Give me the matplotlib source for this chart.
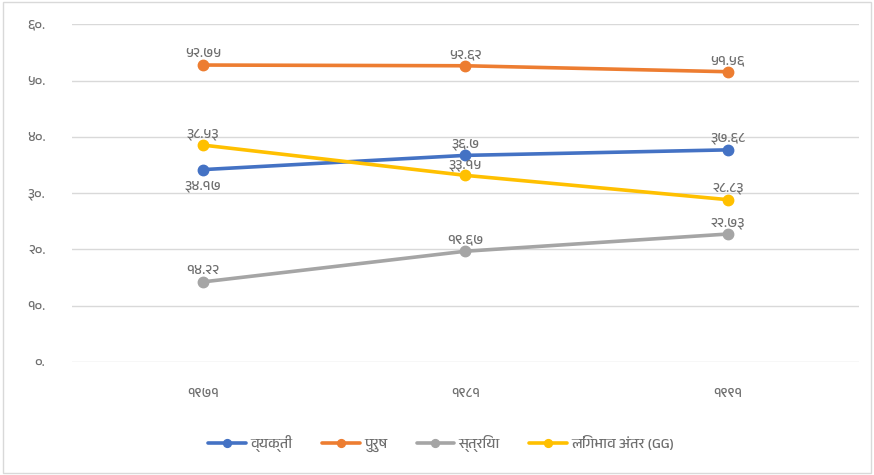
import matplotlib
matplotlib.use("Agg")
import matplotlib.pyplot as plt
from matplotlib import font_manager
import logging
logging.getLogger('matplotlib.font_manager').setLevel(logging.ERROR)

categories = ["१९७१", "१९८१", "१९९१"]
series_names = ["व्यक्ती", "पुरुष", "स्त्रिया", "लिंगभाव अंतर (GG)"]
vyakti = [34.17, 36.7, 37.68]
purush = [52.75, 52.62, 51.56]
striya = [14.22, 19.67, 22.73]
gg = [38.53, 33.15, 28.83]
value_labels = {
    "vyakti": ["३४.१७", "३६.७", "३७.६८"],
    "purush": ["५२.७५", "५२.६२", "५१.५६"],
    "striya": ["१४.२२", "१९.६७", "२२.७३"],
    "gg": ["३८.५३", "३३.१५", "२८.८३"],
}
yticks = [0, 10, 20, 30, 40, 50, 60]
ytick_labels = ["०.", "१०.", "२०.", "३०.", "४०.", "५०.", "६०."]

names = sorted({f.name for f in font_manager.fontManager.ttflist})
fams = [n for n in names if 'Devanagari' in n or 'Lohit' in n or 'Mukta' in n or 'Hind' in n or 'Gargi' in n or 'FreeSans' in n]
plt.rcParams['font.family'] = fams + ['DejaVu Sans']

colors = ["#4472C4", "#ED7D31", "#A5A5A5", "#FFC000"]
txt = "#6F6F6F"

fig = plt.figure(figsize=(8.74, 4.75), dpi=100)
ax = fig.add_axes([0.082, 0.238, 0.901, 0.711])
x = list(range(len(categories)))
data = [vyakti, purush, striya, gg]
keys = ["vyakti", "purush", "striya", "gg"]
for d, c, n in zip(data, colors, series_names):
    ax.plot(x, d, color=c, lw=2.6, marker='o', ms=7.5, label=n, solid_capstyle='round')

offsets = {
    "vyakti": [(0, -12), (0, 8), (0, 8)],
    "purush": [(0, 8), (0, 8), (0, 8)],
    "striya": [(0, 8), (0, 8), (0, 8)],
    "gg": [(0, 8), (0, 7), (0, 8)],
}
for d, k in zip(data, keys):
    for i, (xv, yv) in enumerate(zip(x, d)):
        dx, dy = offsets[k][i]
        ax.annotate(value_labels[k][i], (xv, yv), xytext=(dx, dy), textcoords='offset points',
                    ha='center', va='center', fontsize=10.5, color=txt)

ax.set_xlim(-0.5, 2.5)
ax.set_ylim(0, 60)
ax.set_yticks(yticks)
ax.set_yticklabels(ytick_labels)
ax.set_xticks(x)
ax.set_xticklabels(categories)
ax.tick_params(axis='both', length=0, colors=txt, labelsize=10)
ax.tick_params(axis='y', pad=19)
ax.tick_params(axis='x', pad=19)
ax.grid(axis='y', color='#D9D9D9', lw=1)
ax.set_axisbelow(True)
for s in ax.spines.values():
    s.set_visible(False)

leg = fig.legend(loc='center', bbox_to_anchor=(0.505, 0.067), ncol=4, frameon=False,
                 fontsize=10.5, handlelength=2.6, columnspacing=2.0, handletextpad=0.3,
                 labelcolor=txt, markerscale=0.75)

fig.patches.append(plt.Rectangle((0.004, 0.004), 0.992, 0.992, transform=fig.transFigure,
                                 fill=False, edgecolor='#D9D9D9', lw=1))
fig.savefig("out.png", dpi=100)
